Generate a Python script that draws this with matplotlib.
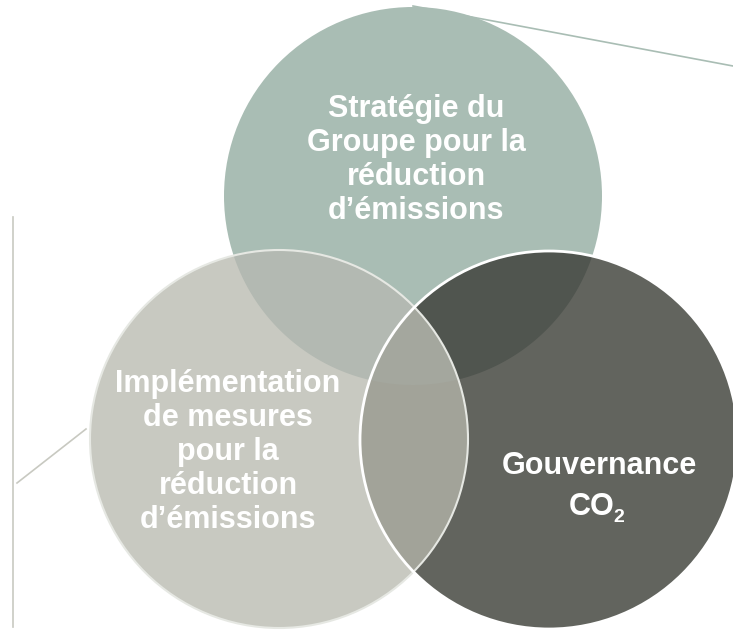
import numpy as np
import matplotlib
matplotlib.use("Agg")
import matplotlib.pyplot as plt
from matplotlib.patches import Circle, Polygon

plt.rcParams['font.family'] = ['Liberation Sans', 'DejaVu Sans']

# labels of the three sets
labels = [
    "Stratégie du\nGroupe pour la\nréduction\nd’émissions",
    "Implémentation\nde mesures\npour la\nréduction\nd’émissions",
    "Gouvernance",
]
sub_label = "CO"

# circle layout (pixels, y downwards)
centers = [(413, 196), (279, 439), (549, 440)]
radius = 189
fills = ["#a9bdb4", "#c8c9c1", "#62645e"]
# overlap colours
pair_cols = {(0, 1): "#b3b9b2", (0, 2): "#50554f", (1, 2): "#a2a399"}
triple_col = "#a4a79e"


def region(idx):
    # convex intersection of the circles in idx, as polygon points
    pts = []
    t = np.linspace(0, 2 * np.pi, 2000)
    for i in idx:
        cx, cy = centers[i]
        x = cx + radius * np.cos(t)
        y = cy + radius * np.sin(t)
        ok = np.ones_like(x, dtype=bool)
        for j in idx:
            if j == i:
                continue
            ox, oy = centers[j]
            ok &= (x - ox) ** 2 + (y - oy) ** 2 <= radius ** 2 + 1e-6
        pts.append(np.column_stack([x[ok], y[ok]]))
    pts = np.vstack(pts)
    m = pts.mean(axis=0)
    ang = np.arctan2(pts[:, 1] - m[1], pts[:, 0] - m[0])
    return pts[np.argsort(ang)]


fig = plt.figure(figsize=(7.33, 6.3), dpi=100)
ax = fig.add_axes([0, 0, 1, 1])
ax.set_xlim(0, 733)
ax.set_ylim(630, 0)
ax.set_aspect('equal')
ax.axis('off')

# decorative lines
ax.plot([413, 733], [6, 66], color="#a9bdb4", lw=1.2, zorder=1)
ax.plot([13, 13], [217, 627], color="#c8c9c1", lw=1.2, zorder=1)
ax.plot([17, 86], [483, 429], color="#c8c9c1", lw=1.2, zorder=1)

for (cx, cy), c in zip(centers, fills):
    ax.add_patch(Circle((cx, cy), radius, facecolor=c, edgecolor='none', zorder=2))

for (i, j), c in pair_cols.items():
    ax.add_patch(Polygon(region([i, j]), closed=True, facecolor=c, edgecolor='none', zorder=3))
ax.add_patch(Polygon(region([0, 1, 2]), closed=True, facecolor=triple_col, edgecolor='none', zorder=4))

# outlines
ax.add_patch(Circle(centers[1], radius, facecolor='none', edgecolor='#e6e8e3', lw=1.5, zorder=5))
ax.add_patch(Circle(centers[2], radius, facecolor='none', edgecolor='white', lw=2.0, zorder=6))

txt = dict(color='white', fontweight='bold', fontsize=22, ha='center', va='center',
           linespacing=1.18, zorder=10)
ax.text(416, 160, labels[0], **txt)
ax.text(228, 452, labels[1], **txt)
ax.text(599, 466, labels[2], **txt)
ax.text(592, 507, sub_label, **txt)
ax.text(619, 518, "2", color='white', fontweight='bold', fontsize=14, ha='center',
        va='center', zorder=10)

fig.savefig("out.png", dpi=100)
